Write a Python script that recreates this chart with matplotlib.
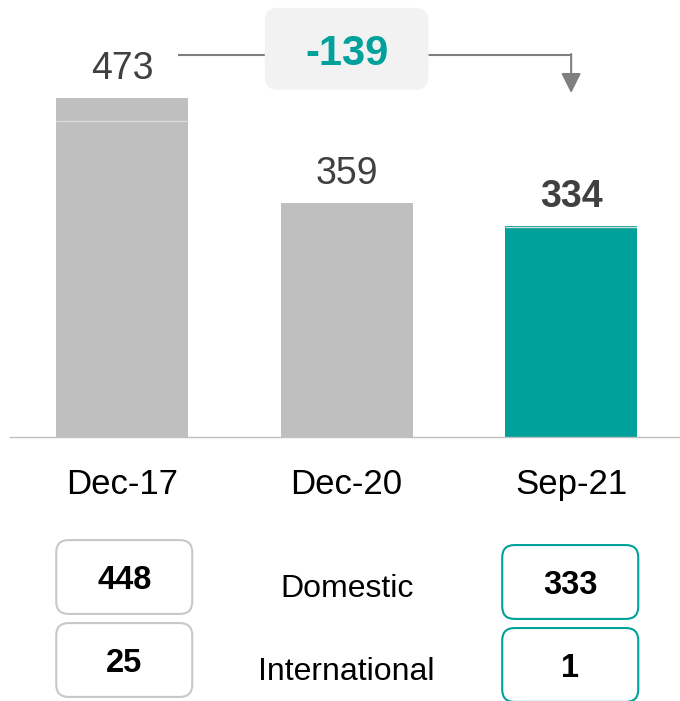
import matplotlib.pyplot as plt
from matplotlib.patches import FancyBboxPatch

plt.rcParams['font.family'] = ['Liberation Sans', 'DejaVu Sans']

# data
periods = ['Dec-17', 'Dec-20', 'Sep-21']
totals = [473, 359, 334]
domestic = [448, None, 333]
international = [25, None, 1]
row_labels = ['Domestic', 'International']

GREY = '#BFBFBF'
TEAL = '#00A19A'
DARK = '#404040'
bar_colors = [GREY, GREY, TEAL]

fig = plt.figure(figsize=(6.8, 7.01), dpi=100)

# top: bars
ax = fig.add_axes([10 / 680, 264 / 701, 670 / 680, 437 / 701])
ax.set_xlim(-0.5, 2.485)
ax.set_ylim(105, 579.5)
x = list(range(len(periods)))
ax.bar(x, totals, width=0.588, bottom=0, color=bar_colors, linewidth=0, zorder=2)
# split line between domestic and international part
for i, d in enumerate(domestic):
    if d is not None:
        ax.hlines(d, i - 0.294, i + 0.294, color='#D9D9D9', lw=1, zorder=3)
for spine in ['top', 'left', 'right']:
    ax.spines[spine].set_visible(False)
ax.spines['bottom'].set_color(GREY)
ax.spines['bottom'].set_linewidth(1)
ax.set_yticks([])
ax.set_xticks(x, periods, fontsize=25)
ax.tick_params(axis='x', length=0, pad=22)

for i, v in enumerate(totals):
    last = i == len(totals) - 1
    ax.annotate(str(v), (i, v), xytext=(0, 14), textcoords='offset points',
                ha='center', va='baseline', fontsize=27, color=DARK,
                fontweight='bold' if last else 'normal')

# change arrow
level = totals[0] + 47
ax.plot([0.25, 2], [level, level], color='#7F7F7F', lw=1.5, zorder=2,
        solid_capstyle='butt')
ax.annotate('', xy=(2, totals[0] + 5.5), xytext=(2, level + 0.8),
            arrowprops=dict(arrowstyle='-|>', color='#7F7F7F', lw=1.5,
                            mutation_scale=30, shrinkA=0, shrinkB=0))
box = FancyBboxPatch((1 - 0.365, 482), 0.73, 89,
                     boxstyle='round,pad=0,rounding_size=0.06',
                     mutation_aspect=243, facecolor='#F2F2F2', edgecolor='none',
                     zorder=4)
ax.add_patch(box)
ax.text(1, 509, f'{totals[2] - totals[0]}', ha='center', va='baseline',
        fontsize=30, fontweight='bold', color=TEAL, zorder=5)

# bottom: breakdown boxes
ax2 = fig.add_axes([10 / 680, 0, 670 / 680, 264 / 701])
ax2.set_xlim(-0.5, 2.485)
ax2.set_ylim(1.494, -1.687)
ax2.axis('off')

for r, name in enumerate(row_labels):
    vals = domestic if r == 0 else international
    ax2.text(1, r + 0.235, name, ha='center', va='baseline', fontsize=23, color='black')
    for i, edge, dx, off in [(0, '#C8C8C8', 0.009, 0.0), (2, TEAL, -0.004, 0.06)]:
        p = FancyBboxPatch((i + dx - 0.303, r + off - 0.445), 0.606, 0.89,
                           boxstyle='round,pad=0,rounding_size=0.055',
                           mutation_aspect=2.7, facecolor='white',
                           edgecolor=edge, lw=1.5, clip_on=False)
        ax2.add_patch(p)
        ax2.text(i + dx, r + off + 0.148, str(vals[i]), ha='center', va='baseline',
                 fontsize=23.5, fontweight='bold', color='black')

fig.savefig('out.png', dpi=100)
